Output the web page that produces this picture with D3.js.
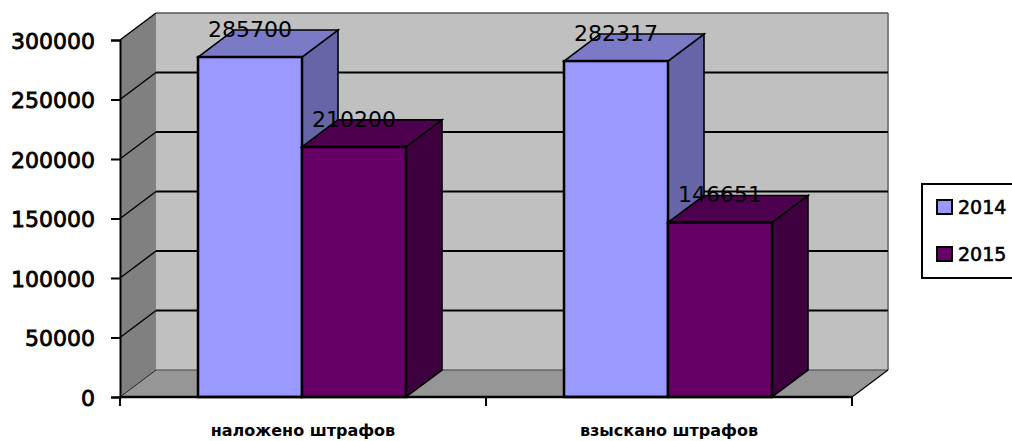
<!DOCTYPE html>
<html>
<head>
<meta charset="utf-8">
<script src="https://cdnjs.cloudflare.com/ajax/libs/d3/7.8.5/d3.min.js"></script>
<style>
  body { margin: 0; background: #fff; }
  text { font-family: "DejaVu Sans", sans-serif; fill: #000; }
</style>
</head>
<body>
<div id="chart"></div>
<script>
// data
var categories = ["наложено штрафов", "взыскано штрафов"];
var years = ["2014", "2015"];
var values2014 = [285700, 282317];
var values2015 = [210200, 146651];
var yTicks = [0, 50000, 100000, 150000, 200000, 250000, 300000];

var w = 1012;
var h = 441;

// front edge of the plot and how far the 3d depth goes
var left = 120;
var right = 852;
var bottom = 397;
var top3d = 40;
var dx = 36;
var dy = -27;

var seriesValues = { "2014": values2014, "2015": values2015 };
var frontColor = { "2014": "#9999ff", "2015": "#660066" };
var topColor = { "2014": "#7a7ac6", "2015": "#4d004d" };
var sideColor = { "2014": "#6666a6", "2015": "#3f003f" };

var svg = d3.select("#chart").append("svg")
  .attr("width", w)
  .attr("height", h)
  .style("display", "block");

var xScale = d3.scaleBand().domain(categories).range([left, right]);
var barScale = d3.scaleBand().domain(years).range([78, 286]);
var yScale = d3.scaleLinear().domain([0, 300000]).range([bottom, top3d]);

function pts(list) {
  return list.map(function(p) { return p.join(","); }).join(" ");
}

// back wall
svg.append("rect")
  .attr("x", left + dx)
  .attr("y", yScale(300000) + dy)
  .attr("width", right - left)
  .attr("height", bottom - top3d)
  .attr("fill", "#c0c0c0");

// right edge and top edge of the back wall
svg.append("line")
  .attr("x1", right + dx).attr("x2", right + dx)
  .attr("y1", yScale(300000) + dy).attr("y2", bottom + dy)
  .attr("stroke", "#808080").attr("stroke-width", 2);
svg.append("line")
  .attr("x1", left + dx).attr("x2", right + dx)
  .attr("y1", yScale(300000) + dy).attr("y2", yScale(300000) + dy)
  .attr("stroke", "#555").attr("stroke-width", 1.5);

// floor
svg.append("polygon")
  .attr("points", pts([[left, bottom], [left + dx, bottom + dy], [right + dx, bottom + dy], [right, bottom]]))
  .attr("fill", "#969696");
svg.append("line")
  .attr("x1", left + dx).attr("x2", right + dx)
  .attr("y1", bottom + dy).attr("y2", bottom + dy)
  .attr("stroke", "#444").attr("stroke-width", 1);

// left wall
svg.append("polygon")
  .attr("points", pts([[left, bottom], [left + dx, bottom + dy], [left + dx, top3d + dy], [left, top3d]]))
  .attr("fill", "#808080");

// gridlines on the back wall and the left wall
svg.selectAll(".grid")
  .data(yTicks.slice(1, -1))
  .enter()
  .append("line")
  .attr("class", "grid")
  .attr("x1", left + dx)
  .attr("x2", right + dx)
  .attr("y1", function(d) { return yScale(d) + dy; })
  .attr("y2", function(d) { return yScale(d) + dy; })
  .attr("stroke", "#000")
  .attr("stroke-width", 2);

svg.selectAll(".gridside")
  .data(yTicks)
  .enter()
  .append("line")
  .attr("class", "gridside")
  .attr("x1", left)
  .attr("x2", left + dx)
  .attr("y1", function(d) { return yScale(d); })
  .attr("y2", function(d) { return yScale(d) + dy; })
  .attr("stroke", "#000")
  .attr("stroke-width", function(d) { return d === 0 ? 0.8 : 1.4; });

// bars, one 3d box per value
categories.forEach(function(cat, i) {
  years.forEach(function(year) {
    var value = seriesValues[year][i];
    var x0 = xScale(cat) + barScale(year);
    var x1 = x0 + barScale.bandwidth();
    var y0 = yScale(value);

    svg.append("polygon")
      .attr("points", pts([[x1, y0], [x1 + dx, y0 + dy], [x1 + dx, bottom + dy], [x1, bottom]]))
      .attr("fill", sideColor[year])
      .attr("stroke", "#000").attr("stroke-width", 1.6);
    svg.append("polygon")
      .attr("points", pts([[x0, y0], [x0 + dx, y0 + dy], [x1 + dx, y0 + dy], [x1, y0]]))
      .attr("fill", topColor[year])
      .attr("stroke", "#000").attr("stroke-width", 1.6);
    svg.append("rect")
      .attr("x", x0)
      .attr("y", y0)
      .attr("width", x1 - x0)
      .attr("height", bottom - y0)
      .attr("fill", frontColor[year])
      .attr("stroke", "#000").attr("stroke-width", 2.5);
  });
});

// value labels
categories.forEach(function(cat, i) {
  years.forEach(function(year) {
    var value = seriesValues[year][i];
    svg.append("text")
      .attr("x", xScale(cat) + barScale(year) + barScale.bandwidth() / 2)
      .attr("y", yScale(value) + dy + 7)
      .attr("text-anchor", "middle")
      .attr("font-size", "22px")
      .text(value);
  });
});

// y axis
var yAxis = d3.axisLeft(yScale)
  .tickValues(yTicks)
  .tickSize(9)
  .tickPadding(16)
  .tickFormat(d3.format("d"));
var yG = svg.append("g")
  .attr("transform", "translate(" + left + ",0)")
  .call(yAxis);
yG.selectAll("path").attr("stroke", "#000").attr("stroke-width", 2);
yG.selectAll("line").attr("stroke", "#000").attr("stroke-width", 2);
yG.selectAll("text")
  .attr("font-family", "DejaVu Sans")
  .attr("font-size", "22px")
  .attr("dy", "0.38em")
  .attr("stroke", "#000")
  .attr("stroke-width", 0.8);

// x axis, ticks sit between the categories
var xTicks = [left].concat(categories.map(function(c) { return xScale(c) + xScale.bandwidth(); }));
svg.append("line")
  .attr("x1", left).attr("x2", right)
  .attr("y1", bottom).attr("y2", bottom)
  .attr("stroke", "#000").attr("stroke-width", 2.5);
svg.selectAll(".xtick")
  .data(xTicks)
  .enter()
  .append("line")
  .attr("class", "xtick")
  .attr("x1", function(d) { return d; })
  .attr("x2", function(d) { return d; })
  .attr("y1", bottom)
  .attr("y2", bottom + 9)
  .attr("stroke", "#000")
  .attr("stroke-width", 2);

// front edge of the floor on the right
svg.append("line")
  .attr("x1", right).attr("x2", right + dx)
  .attr("y1", bottom).attr("y2", bottom + dy)
  .attr("stroke", "#000").attr("stroke-width", 1.2);

svg.selectAll(".catlabel")
  .data(categories)
  .enter()
  .append("text")
  .attr("class", "catlabel")
  .attr("x", function(d) { return xScale(d) + xScale.bandwidth() / 2; })
  .attr("y", 436)
  .attr("text-anchor", "middle")
  .attr("font-size", "16px")
  .attr("font-weight", "bold")
  .text(function(d) { return d; });

// legend
var legend = svg.append("g");
legend.append("rect")
  .attr("x", 922)
  .attr("y", 184)
  .attr("width", 100)
  .attr("height", 94)
  .attr("fill", "#fff")
  .attr("stroke", "#000")
  .attr("stroke-width", 2);

var legendRow = d3.scalePoint().domain(years).range([207, 254]);
years.forEach(function(year) {
  legend.append("rect")
    .attr("x", 937)
    .attr("y", legendRow(year) - 7)
    .attr("width", 15)
    .attr("height", 14)
    .attr("fill", frontColor[year])
    .attr("stroke", "#000")
    .attr("stroke-width", 2);
  legend.append("text")
    .attr("x", 958)
    .attr("y", legendRow(year) + 7)
    .attr("font-size", "19px")
    .attr("stroke", "#000")
    .attr("stroke-width", 0.6)
    .text(year);
});
</script>
</body>
</html>
